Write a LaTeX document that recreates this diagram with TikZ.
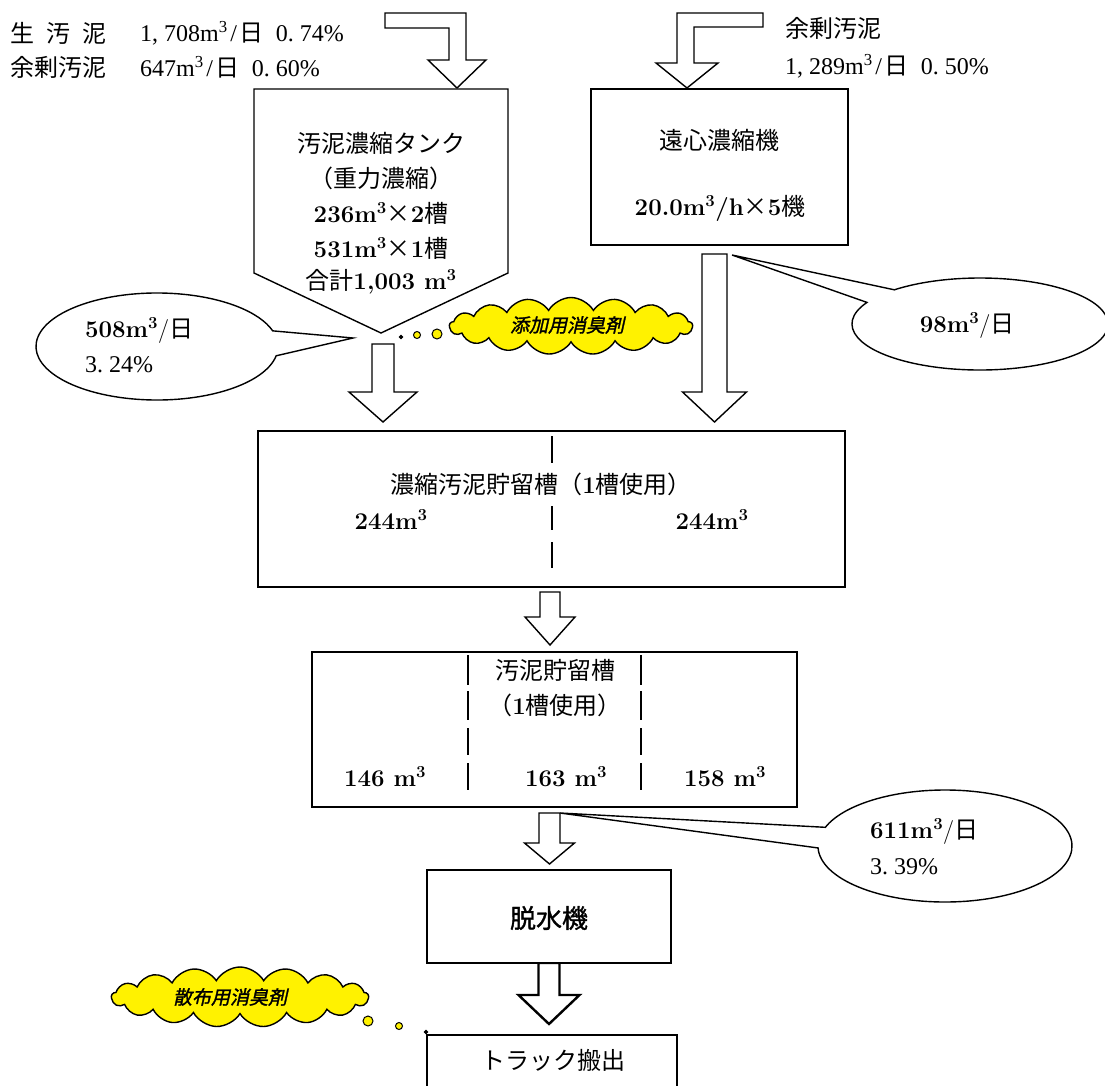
\documentclass[tikz,border=0pt]{standalone}
\usepackage{fontspec}
\newfontfamily\jpf{Noto Sans CJK JP}
\newfontfamily\jpfb[FakeBold=1.2]{Noto Sans CJK JP}
\newfontfamily\jpbi[FakeSlant=0.22,FakeBold=1.5]{Noto Sans CJK JP}
\newfontfamily\minc{Liberation Serif}
\usetikzlibrary{shapes.symbols}
\newcommand\J[1]{{\jpf #1}}
\newcommand\M[1]{{\minc #1}}
\newcommand\nb[1]{{\bfseries #1}}
\newcommand\sq{\textsuperscript{3}}
\newcommand\cm{\makebox[0.5em][l]{,}}
\newcommand\pd{\makebox[0.5em][l]{.}}
\newcommand\sla{\makebox[0.5em]{/}}
\newcommand\blockarrow[7][]{\draw[barrow,#1] (#2-#5,#3) -- (#2+#5,#3) -- (#2+#5,#4) -- (#2+#6,#4) -- (#2,#7) -- (#2-#6,#4) -- (#2-#5,#4) -- cycle;}
\tikzset{
 lw/.style={line width=1.4pt},
 box/.style={draw, line width=1.4pt, fill=white, inner sep=0pt},
 txt/.style={inner sep=0pt, font=\fontsize{24}{28}\selectfont},
 barrow/.style={draw, line width=1.4pt, fill=white, line join=miter},
 cloudy/.style={cloud, cloud puffs=17, cloud puff arc=120, draw, line width=1.4pt, fill=yellow, inner sep=0pt},
 ctext/.style={inner sep=0pt, font=\fontsize{19}{22}\selectfont\jpbi},
 dot/.style={circle, draw, line width=1pt, fill=yellow, inner sep=0pt},
 callout/.style={draw, line width=1.4pt, fill=white, line join=miter},
}
\begin{document}
\begin{tikzpicture}[x=1pt,y=-1pt]
\useasboundingbox (0,0) rectangle (1105,1086);

% top-left text
\node[txt, anchor=west] (l1) at (10,33) {\J{生\hspace{0.5em}汚\hspace{0.5em}泥}};
\node[txt, anchor=west] (l1n) at (140,33) {\M{1\cm708m\sq\sla}\J{日}\M{\hspace{0.5em}0\pd74\%}};
\node[txt, anchor=west] (l2) at (10,67) {\J{余剰汚泥}};
\node[txt, anchor=west] (l2n) at (140,67) {\M{647m\sq\sla}\J{日}\M{\hspace{0.5em}0\pd60\%}};
% top-right text
\node[txt, anchor=west] (r1) at (785,28) {\J{余剰汚泥}};
\node[txt, anchor=west] (r2) at (785,66) {\M{1\cm289m\sq\sla}\J{日}\M{\hspace{0.5em}0\pd50\%}};

% bent arrows
\draw[barrow] (385,13) -- (466,13) -- (466,60) -- (486,60) -- (457,88) -- (428,60) -- (449,60) -- (449,28) -- (385,28) -- cycle;
\draw[barrow] (763,13) -- (677,13) -- (677,63) -- (656,63) -- (687,88) -- (718,63) -- (694,63) -- (694,27) -- (763,27) -- cycle;

% thickener tank
\draw[box] (254,89) -- (508,89) -- (508,273) -- (381,333) -- (254,273) -- cycle;
\coordinate (tanktip) at (381,333);
\node[txt] (t1) at (381,143) {\J{汚泥濃縮タンク}};
\node[txt] (t2) at (381,178) {\J{（重力濃縮）}};
\node[txt] (t3) at (381,213) {\nb{236m\sq}\J{×}\nb{2}\J{槽}};
\node[txt] (t4) at (381,248) {\nb{531m\sq}\J{×}\nb{1}\J{槽}};
\node[txt] (t5) at (381,282) {\J{合計}\nb{1,003 m\sq}};

% centrifuge
\node[box, minimum width=257pt, minimum height=156pt] (cent) at (719.5,167) {};
\node[txt] (c1t) at (719,140) {\J{遠心濃縮機}};
\node[txt] (c2t) at (720,208) {\nb{20.0m\sq/h}\J{×}\nb{5}\J{機}};

% callouts
\coordinate (p508) at (353,338);
\draw[callout] (p508) -- ([shift={(10:121 and 53.5)}]157,346.5) arc[start angle=10, end angle=343, x radius=121, y radius=53.5] -- cycle;
\node[txt, anchor=west] (b1) at (85,330) {\nb{508m\sq}/\J{日}};
\node[txt, anchor=west] (b2) at (85,365) {\M{3\pd24\%}};

\coordinate (p98) at (732,255);
\draw[callout] (p98) -- ([shift={(208:128 and 46)}]980,324) arc[start angle=208, end angle=-132, x radius=128, y radius=46] -- cycle;
\node[txt] (b3) at (967,325) {\nb{98m\sq}/\J{日}};

\coordinate (p611) at (560,813);
\draw[callout] (p611) -- ([shift={(178:127 and 56)}]945,846) arc[start angle=178, end angle=-160.5, x radius=127, y radius=56] -- cycle;
\node[txt, anchor=west] (b4) at (870,831) {\nb{611m\sq}/\J{日}};
\node[txt, anchor=west] (b5) at (870,867) {\M{3\pd39\%}};

% cloud 1 and dots
\node[dot, minimum size=3.5pt, fill=black] (d1) at (401,337) {};
\node[dot, minimum size=7pt] (d2) at (417,335) {};
\node[dot, minimum size=10pt] (d3) at (437,334) {};
\node[cloudy, minimum width=243pt, minimum height=57pt] (cl1) at (571,326) {};
\node[ctext] (cl1t) at (567,325) {添加用消臭剤};

% arrows into concentrated storage
\blockarrow{383}{344}{392}{11}{34}{422}
\blockarrow{714.5}{254}{392}{12.5}{32}{422}

% concentrated sludge storage tank
\node[box, minimum width=587pt, minimum height=156pt] (cst) at (551.5,509) {};
\draw[lw] (552,436) -- (552,463) (552,506) -- (552,530) (552,542) -- (552,568);
\node[txt] (s1) at (541,484) {\J{濃縮汚泥貯留槽（}\nb{1}\J{槽使用）}};
\node[txt] (s2) at (391,519) {\nb{244m\sq}};
\node[txt] (s3) at (712,519) {\nb{244m\sq}};

\blockarrow{550}{592}{617}{10}{25}{645}

% sludge storage tank
\node[box, minimum width=485pt, minimum height=155pt] (st) at (554.5,729.5) {};
\foreach \xx in {468,641}{
 \draw[lw] (\xx,655) -- (\xx,685) (\xx,691) -- (\xx,720) (\xx,728) -- (\xx,755) (\xx,763) -- (\xx,790);
}
\node[txt] (u1) at (555,670) {\J{汚泥貯留槽}};
\node[txt] (u2) at (555,705) {\J{（}\nb{1}\J{槽使用）}};
\node[txt] (u3) at (385,777) {\nb{146 m\sq}};
\node[txt] (u4) at (566,777) {\nb{163 m\sq}};
\node[txt] (u5) at (725,777) {\nb{158 m\sq}};

\blockarrow{549.5}{813}{843}{10.5}{25}{864}

% dewatering
\blockarrow[line width=2.4pt]{549}{963}{995}{10.5}{30.5}{1024}
\node[box, line width=2.8pt, minimum width=244pt, minimum height=93pt] (dw) at (549,916.5) {};
\node[inner sep=0pt, font=\fontsize{26}{30}\selectfont\jpfb] (dwt) at (549,918) {脱水機};

% truck
\node[box, minimum width=250pt, minimum height=70pt] (tr) at (552,1070) {};
\node[txt] (trt) at (553,1060) {\J{トラック搬出}};

% cloud 2 and dots
\node[cloudy, minimum width=257pt, minimum height=60pt] (cl2) at (240,997) {};
\node[ctext] (cl2t) at (230,997) {散布用消臭剤};
\node[dot, minimum size=10pt] (e1) at (368,1021) {};
\node[dot, minimum size=7pt] (e2) at (399,1026) {};
\node[dot, minimum size=3.5pt, fill=black] (e3) at (426,1032) {};
\end{tikzpicture}
\end{document}
